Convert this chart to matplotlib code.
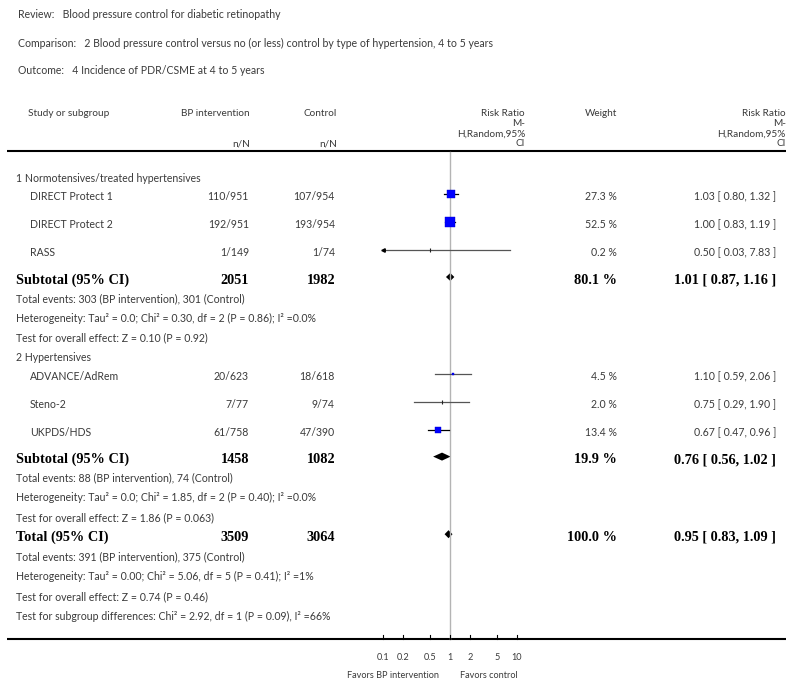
import matplotlib.pyplot as plt
import numpy as np

# Data
review = "Blood pressure control for diabetic retinopathy"
comparison = "2 Blood pressure control versus no (or less) control by type of hypertension, 4 to 5 years"
outcome = "4 Incidence of PDR/CSME at 4 to 5 years"

subgroups = ["1 Normotensives/treated hypertensives", "2 Hypertensives"]
studies = ["DIRECT Protect 1", "DIRECT Protect 2", "RASS",
           "ADVANCE/AdRem", "Steno-2", "UKPDS/HDS"]
study_group = [0, 0, 0, 1, 1, 1]
bp_nN = ["110/951", "192/951", "1/149", "20/623", "7/77", "61/758"]
ctrl_nN = ["107/954", "193/954", "1/74", "18/618", "9/74", "47/390"]
rr = [1.03, 1.00, 0.50, 1.10, 0.75, 0.67]
rr_lo = [0.80, 0.83, 0.03, 0.59, 0.29, 0.47]
rr_hi = [1.32, 1.19, 7.83, 2.06, 1.90, 0.96]
weight = [27.3, 52.5, 0.2, 4.5, 2.0, 13.4]

sub_bp_total = [2051, 1458]
sub_ctrl_total = [1982, 1082]
sub_rr = [1.01, 0.76]
sub_lo = [0.87, 0.56]
sub_hi = [1.16, 1.02]
sub_weight = [80.1, 19.9]
sub_notes = [
    ["Total events: 303 (BP intervention), 301 (Control)",
     "Heterogeneity: Tau² = 0.0; Chi² = 0.30, df = 2 (P = 0.86); I² =0.0%",
     "Test for overall effect: Z = 0.10 (P = 0.92)"],
    ["Total events: 88 (BP intervention), 74 (Control)",
     "Heterogeneity: Tau² = 0.0; Chi² = 1.85, df = 2 (P = 0.40); I² =0.0%",
     "Test for overall effect: Z = 1.86 (P = 0.063)"],
]

tot_bp, tot_ctrl = 3509, 3064
tot_rr, tot_lo, tot_hi, tot_weight = 0.95, 0.83, 1.09, 100.0
tot_notes = ["Total events: 391 (BP intervention), 375 (Control)",
             "Heterogeneity: Tau² = 0.00; Chi² = 5.06, df = 5 (P = 0.41); I² =1%",
             "Test for overall effect: Z = 0.74 (P = 0.46)",
             "Test for subgroup differences: Chi² = 2.92, df = 1 (P = 0.09), I² =66%"]

ticks = [0.1, 0.2, 0.5, 1, 2, 5, 10]
tick_labels = ["0.1", "0.2", "0.5", "1", "2", "5", "10"]

# Layout
W, H = 800, 686
fig = plt.figure(figsize=(8, 6.86), dpi=100)
tab = fig.add_axes([0, 0, 1, 1])
tab.set_xlim(0, W)
tab.set_ylim(H, 0)
tab.axis("off")

# forest panel: log axis, 0.1 -> 383px, 10 -> 517px
px_dec = 67.0
fx0, fx1 = 340, 560
fax = fig.add_axes([fx0 / W, 0, (fx1 - fx0) / W, 1])
fax.set_xscale("log")
fax.set_xlim(10 ** (-1 - (383 - fx0) / px_dec), 10 ** (1 + (fx1 - 517) / px_dec))
fax.set_ylim(H, 0)
fax.axis("off")

light = dict(family=["Lato", "DejaVu Sans"], fontsize=7.6, color="#3a3a3a")
small = dict(light, fontsize=6.6)
hdr = dict(light, fontsize=7.2)
bold = dict(family=["Liberation Serif", "DejaVu Serif"], fontweight="bold", fontsize=10.3, color="black")

x_name, x_study = 16, 30
x_bp, x_ctrl, x_rrh, x_w, x_rr = 249, 335, 525, 617, 776

# header info
for y, lab, txt in [(14, "Review:", review), (43, "Comparison:", comparison), (70, "Outcome:", outcome)]:
    tab.text(18, y, lab + "   " + txt, va="center", ha="left", **light)

hy = [114, 124, 134, 144]
tab.text(28, hy[0], "Study or subgroup", va="center", **hdr)
tab.text(250, hy[0], "BP intervention", va="center", ha="right", **hdr)
tab.text(250, hy[3], "n/N", va="center", ha="right", **hdr)
tab.text(337, hy[0], "Control", va="center", ha="right", **hdr)
tab.text(337, hy[3], "n/N", va="center", ha="right", **hdr)
tab.text(x_w, hy[0], "Weight", va="center", ha="right", **hdr)
for xr in (x_rrh, 786):
    for y, t in zip(hy, ["Risk Ratio", "M-", "H,Random,95%", "CI"]):
        tab.text(xr, y, t, va="center", ha="right", **hdr)

tab.plot([7, 786], [151, 151], color="black", lw=1.5, solid_capstyle="butt")
tab.plot([7, 786], [639, 639], color="black", lw=1.5, solid_capstyle="butt")
fax.plot([1, 1], [152, 639], color="#b4b4b4", lw=1)

step = 19.7
dy = 3  # markers sit slightly above the text centre
y = 178
for g in range(2):
    tab.text(x_name, y, subgroups[g], va="center", **light)
    yr = y + 19
    for i in [k for k in range(len(studies)) if study_group[k] == g]:
        tab.text(x_study, yr, studies[i], va="center", **light)
        tab.text(x_bp, yr, bp_nN[i], va="center", ha="right", **light)
        tab.text(x_ctrl, yr, ctrl_nN[i], va="center", ha="right", **light)
        tab.text(x_w, yr, f"{weight[i]:.1f} %", va="center", ha="right", **light)
        tab.text(x_rr, yr, f"{rr[i]:.2f} [ {rr_lo[i]:.2f}, {rr_hi[i]:.2f} ]", va="center", ha="right", **light)
        ym = yr - dy
        lo = max(rr_lo[i], 0.1)
        hi = min(rr_hi[i], 10)
        lc = "black" if weight[i] > 10 else "#555555"
        fax.plot([lo, hi], [ym, ym], color=lc, lw=0.9)
        if rr_lo[i] < 0.1:
            fax.plot([lo], [ym], marker="<", ms=2.5, color="black")
        side = 7.2 * np.sqrt(weight[i] / 52.5)
        if side >= 2:
            fax.plot([rr[i]], [ym], marker="s", ms=side, color="#0000ff", mec="#0000cc", mew=0.3)
        else:
            fax.plot([rr[i]], [ym], marker="|", ms=3, color="#222222", mew=0.8)
        yr += 28
    ys = yr - 28 + 27
    tab.text(x_name, ys, "Subtotal (95% CI)", va="center", **bold)
    tab.text(x_bp, ys, str(sub_bp_total[g]), va="center", ha="right", **bold)
    tab.text(x_ctrl, ys, str(sub_ctrl_total[g]), va="center", ha="right", **bold)
    tab.text(x_w, ys, f"{sub_weight[g]:.1f} %", va="center", ha="right", **bold)
    tab.text(x_rr, ys, f"{sub_rr[g]:.2f} [ {sub_lo[g]:.2f}, {sub_hi[g]:.2f} ]", va="center", ha="right", **bold)
    ym = ys - dy
    fax.fill([sub_lo[g], sub_rr[g], sub_hi[g], sub_rr[g]], [ym, ym - 4, ym, ym + 4], color="black", lw=0)
    yn = ys + 18.5
    for t in sub_notes[g]:
        tab.text(x_name, yn, t, va="center", **light)
        yn += step
    y = yn

# overall
ys = y
tab.text(x_name, ys, "Total (95% CI)", va="center", **bold)
tab.text(x_bp, ys, str(tot_bp), va="center", ha="right", **bold)
tab.text(x_ctrl, ys, str(tot_ctrl), va="center", ha="right", **bold)
tab.text(x_w, ys, f"{tot_weight:.1f} %", va="center", ha="right", **bold)
tab.text(x_rr, ys, f"{tot_rr:.2f} [ {tot_lo:.2f}, {tot_hi:.2f} ]", va="center", ha="right", **bold)
ym = ys - dy
fax.fill([tot_lo, tot_rr, tot_hi, tot_rr], [ym, ym - 4, ym, ym + 4], color="black", lw=0)
yn = ys + step
for t in tot_notes:
    tab.text(x_name, yn, t, va="center", **light)
    yn += step

# axis ticks
for v, lab in zip(ticks, tick_labels):
    fax.plot([v, v], [634.5, 639], color="black", lw=0.8)
    fax.text(v, 657, lab, ha="center", va="center", **small)
fax.text(0.68, 676, "Favors BP intervention", ha="right", va="center", **small)
fax.text(1.41, 676, "Favors control", ha="left", va="center", **small)

fig.savefig("out.png", dpi=100)
